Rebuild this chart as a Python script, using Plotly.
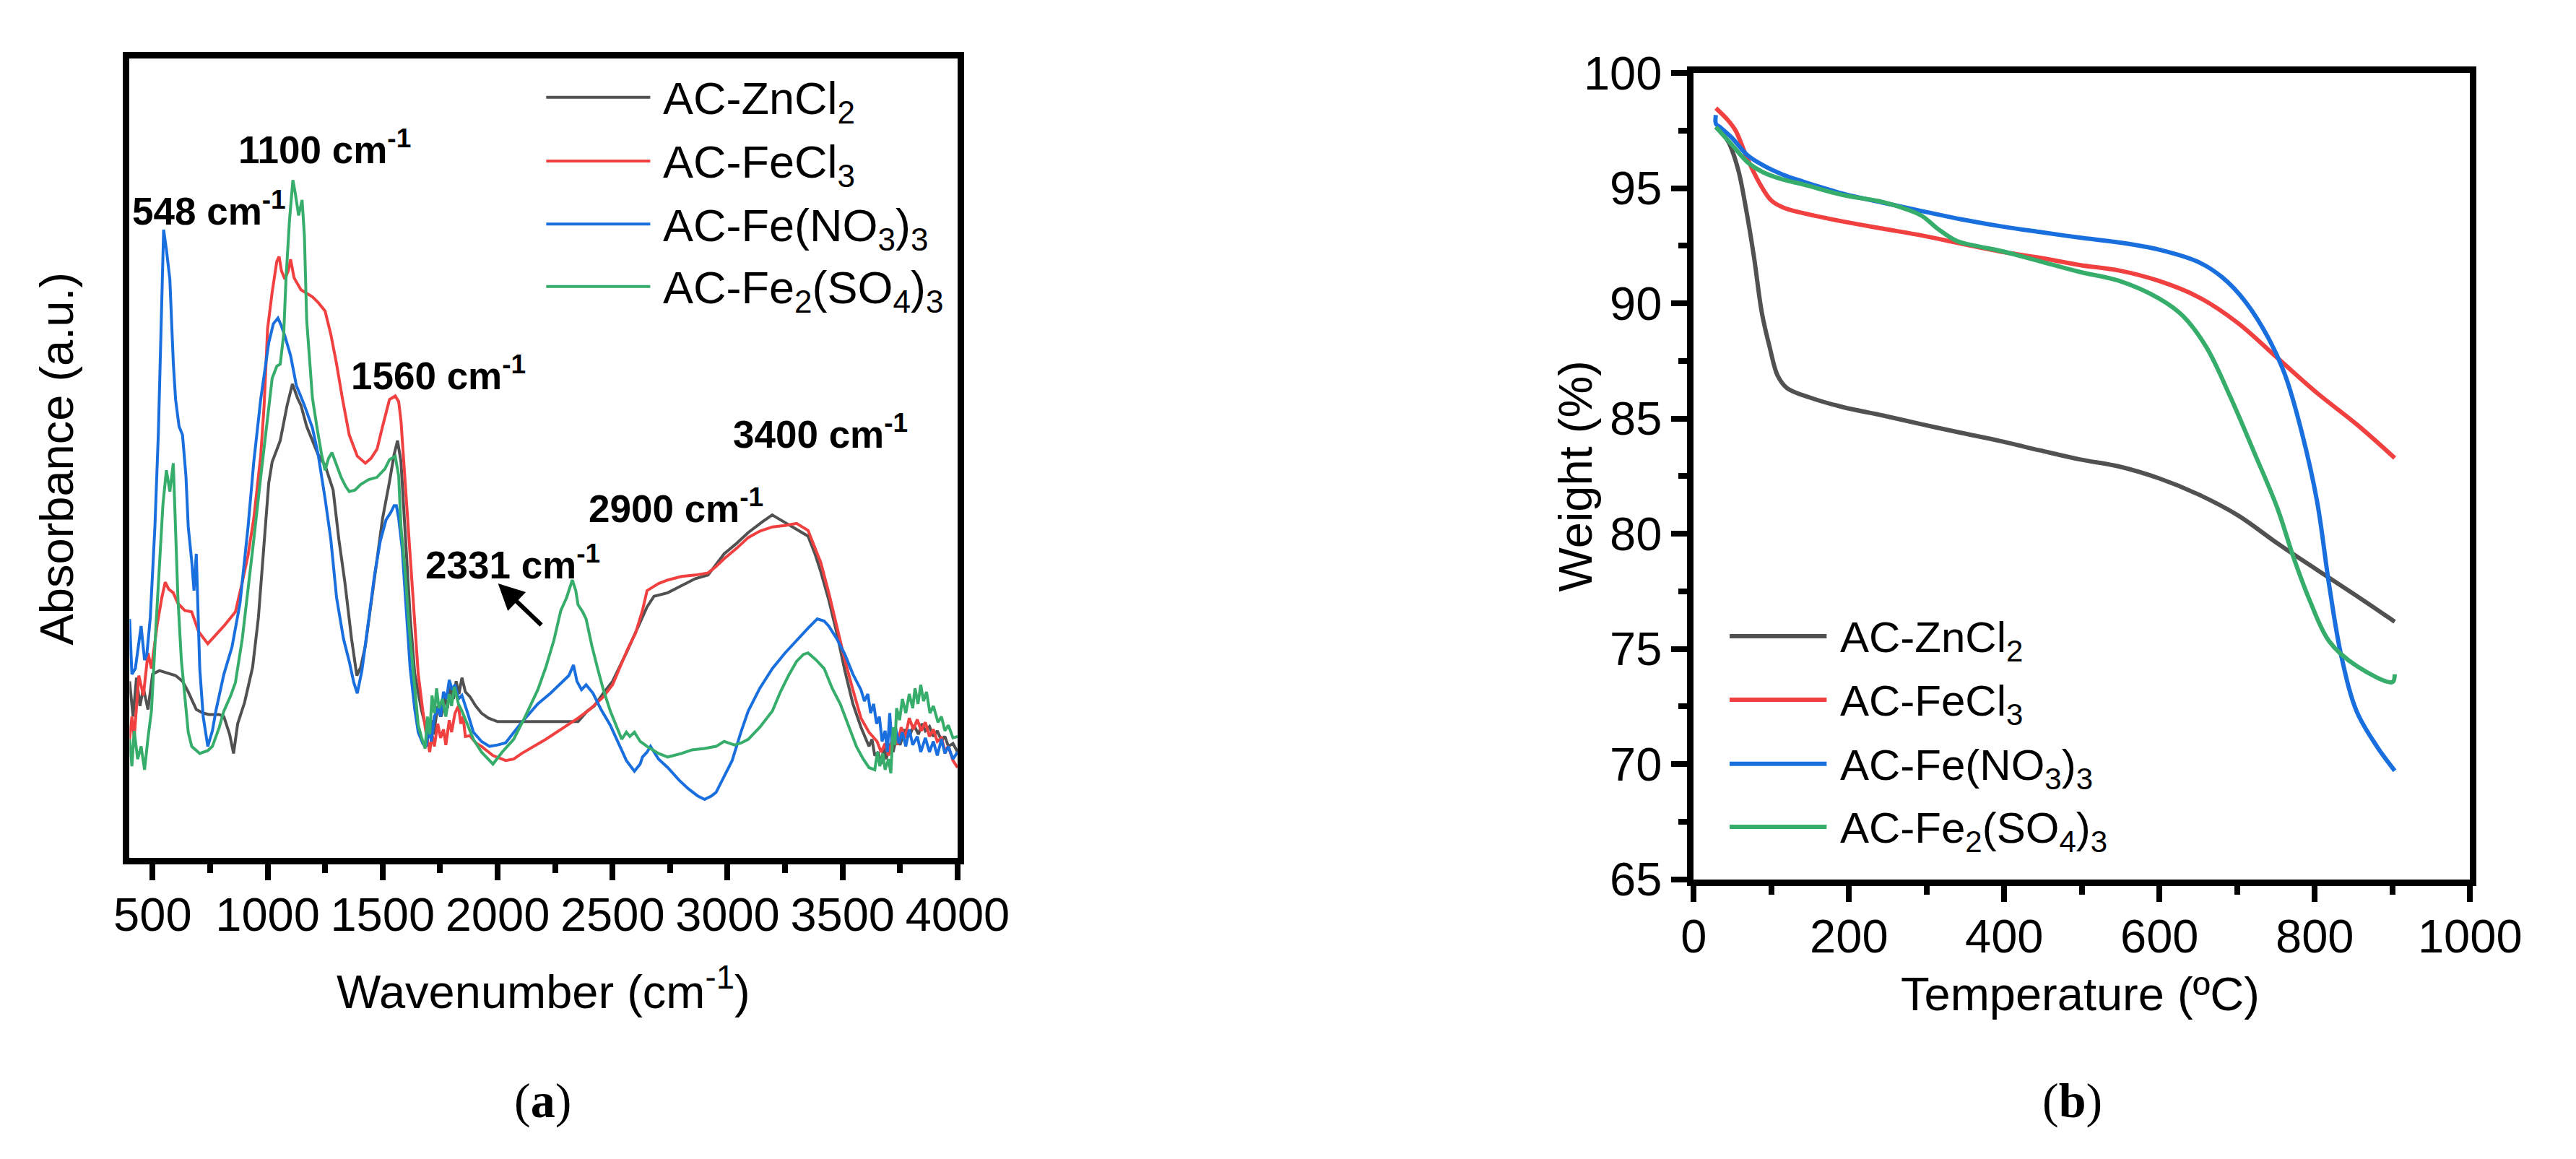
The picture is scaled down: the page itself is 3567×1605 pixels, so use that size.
import plotly.graph_objects as go

# ---------------- FTIR data (a): (wavenumber cm-1, absorbance a.u.) ----------------
series_names = ["AC-ZnCl<sub>2</sub>", "AC-FeCl<sub>3</sub>",
                "AC-Fe(NO<sub>3</sub>)<sub>3</sub>", "AC-Fe<sub>2</sub>(SO<sub>4</sub>)<sub>3</sub>"]
colors = ["#515151", "#F14040", "#1A6FDF", "#37AD6B"]

ftir_zn = [(400,250),(415,200),(430,255),(445,215),(460,240),(480,210),(500,260),(530,265),(560,262),(600,258),
           (630,250),(655,235),(690,210),(720,205),(745,203),(790,203),(810,200),(835,175),(852,148),(870,190),
           (900,220),(935,270),(960,340),(985,450),(1005,530),(1020,560),(1055,590),(1085,640),(1108,670),
           (1130,650),(1145,640),(1170,610),(1195,590),(1220,570),(1250,555),(1285,520),(1310,450),(1336,390),
           (1365,310),(1388,258),(1405,270),(1425,300),(1450,360),(1476,420),(1500,480),(1529,530),(1550,570),
           (1565,590),(1580,560),(1600,450),(1620,340),(1640,260),(1670,208),(1700,170),(1712,195),(1722,175),
           (1740,215),(1755,200),(1770,228),(1782,212),(1795,242),(1808,225),(1820,250),(1832,232),(1845,255),
           (1860,235),(1880,228),(1905,215),(1930,205),(1960,198),(2000,193),(2100,193),(2200,193),(2300,193),
           (2350,193),(2390,208),(2420,215),(2460,233),(2500,250),(2560,290),(2600,320),(2650,355),(2680,370),
           (2740,375),(2800,385),(2860,395),(2915,400),(2950,415),(2985,430),(3040,445),(3090,460),(3150,475),
           (3194,485),(3230,478),(3270,470),(3300,465),(3350,455),(3380,430),(3405,405),(3440,365),(3475,318),
           (3510,265),(3545,218),(3580,185),(3600,170),(3615,158),(3628,168),(3640,145),(3655,150),(3667,133),
           (3680,155),(3690,140),(3705,162),(3720,150),(3735,172),(3750,160),(3770,182),(3790,172),(3810,188),
           (3830,175),(3845,190),(3860,180),(3878,186),(3895,172),(3912,180),(3930,166),(3945,172),(3960,158),
           (3980,162),(4000,150)]

ftir_fe = [(400,168),(410,200),(420,170),(440,258),(460,230),(480,290),(495,268),(520,330),(540,368),(555,390),
           (570,380),(590,375),(610,360),(640,350),(670,348),(700,320),(740,303),(775,315),(810,328),(840,340),
           (860,348),(890,390),(915,428),(940,480),(970,568),(985,640),(1000,748),(1020,800),(1040,843),
           (1050,850),(1060,830),(1075,818),(1090,830),(1100,846),(1115,820),(1145,803),(1170,798),(1195,793),
           (1220,785),(1250,773),(1275,740),(1300,698),(1325,650),(1355,598),(1390,568),(1425,558),(1450,565),
           (1476,578),(1500,610),(1530,648),(1555,653),(1570,645),(1580,618),(1595,545),(1610,468),(1625,400),
           (1640,318),(1655,260),(1675,208),(1690,175),(1705,150),(1715,175),(1725,158),(1740,190),(1752,170),
           (1765,182),(1775,160),(1790,195),(1800,178),(1815,205),(1830,215),(1840,190),(1850,200),(1860,172),
           (1880,173),(1905,163),(1930,158),(1980,145),(2035,138),(2070,140),(2105,148),(2160,158),(2210,168),
           (2280,183),(2350,198),(2400,210),(2460,228),(2500,245),(2530,268),(2565,295),(2600,318),(2630,350),
           (2650,378),(2700,388),(2740,393),(2800,398),(2860,400),(2915,403),(2950,412),(2985,423),(3040,438),
           (3090,453),(3140,462),(3195,468),(3250,470),(3300,473),(3350,463),(3380,438),(3405,418),(3440,375),
           (3475,328),(3510,280),(3545,238),(3580,198),(3615,178),(3650,165),(3668,150),(3685,162),(3700,145),
           (3720,175),(3738,160),(3755,185),(3772,170),(3790,198),(3808,182),(3825,196),(3842,180),(3860,192),
           (3878,172),(3895,182),(3912,165),(3930,170),(3945,152),(3960,158),(3980,138),(4000,128)]

ftir_no3 = [(400,338),(410,260),(425,268),(440,305),(450,328),(465,280),(475,288),(490,340),(510,468),(525,600),
            (535,718),(548,888),(560,860),(575,818),(590,700),(600,648),(615,610),(630,598),(645,540),(655,468),
            (670,420),(680,378),(690,430),(705,268),(720,200),(740,158),(760,180),(775,208),(810,260),(845,298),
            (880,360),(915,468),(940,560),(970,648),(1005,728),(1025,755),(1045,763),(1060,752),(1075,738),
            (1100,710),(1125,668),(1160,640),(1195,608),(1220,570),(1250,508),(1275,450),(1300,368),(1330,310),
            (1355,278),(1375,248),(1390,233),(1410,265),(1440,338),(1465,400),(1490,448),(1515,478),(1535,488),
            (1550,498),(1560,498),(1570,480),(1585,438),(1600,368),(1620,268),(1640,210),(1655,178),(1675,162),
            (1690,158),(1702,185),(1712,165),(1725,200),(1740,212),(1752,200),(1765,235),(1778,225),(1790,252),
            (1802,238),(1815,245),(1830,225),(1845,230),(1870,205),(1895,178),(1930,165),(1965,158),(2000,160),
            (2035,163),(2100,190),(2175,218),(2230,233),(2280,248),(2310,258),(2330,273),(2345,250),(2365,238),
            (2385,245),(2415,233),(2450,210),(2490,188),(2530,160),(2560,138),(2595,123),(2620,133),(2630,143),
            (2650,150),(2665,158),(2700,140),(2740,128),(2790,110),(2830,98),(2870,88),(2900,83),(2930,88),
            (2950,93),(2985,115),(3020,138),(3060,180),(3090,208),(3140,240),(3195,268),(3250,290),(3300,308),
            (3350,325),(3390,338),(3420,335),(3440,328),(3475,310),(3510,288),(3545,260),(3580,238),(3595,222),
            (3610,232),(3622,205),(3635,218),(3648,190),(3660,200),(3672,165),(3685,180),(3695,150),(3705,205),
            (3715,160),(3730,185),(3745,162),(3760,178),(3775,158),(3790,182),(3805,160),(3825,172),(3840,150),
            (3860,170),(3878,150),(3895,165),(3912,145),(3930,168),(3945,148),(3960,158),(3980,140),(4000,150)]

ftir_so4 = [(400,168),(410,130),(420,180),(435,140),(450,158),(465,125),(480,170),(495,208),(515,330),(530,418),
            (545,500),(560,548),(575,518),(590,558),(600,460),(610,368),(625,280),(640,230),(655,178),(670,158),
            (705,148),(740,152),(760,158),(790,185),(810,208),(840,230),(860,248),(890,310),(915,378),(940,450),
            (970,538),(995,610),(1020,678),(1040,695),(1055,698),(1070,740),(1080,818),(1095,900),(1110,958),
            (1120,940),(1135,908),(1150,930),(1160,880),(1170,760),(1180,718),(1195,650),(1215,608),(1235,570),
            (1250,548),(1265,565),(1280,573),(1300,555),(1320,538),(1340,525),(1355,518),(1380,520),(1405,528),
            (1440,535),(1475,538),(1510,550),(1530,563),(1555,568),(1570,540),(1580,468),(1600,398),(1615,328),
            (1635,260),(1655,188),(1670,170),(1685,155),(1695,200),(1705,175),(1715,230),(1725,205),(1735,240),
            (1745,212),(1760,225),(1775,200),(1790,232),(1800,215),(1812,242),(1830,218),(1845,208),(1870,188),
            (1895,168),(1930,150),(1980,133),(2020,150),(2070,168),(2120,200),(2175,238),(2210,270),(2245,308),
            (2275,350),(2300,368),(2325,393),(2340,378),(2350,358),(2370,348),(2385,338),(2410,300),(2435,268),
            (2460,238),(2490,208),(2515,188),(2540,168),(2560,178),(2575,172),(2595,178),(2620,165),(2650,158),
            (2700,148),(2740,143),(2800,148),(2845,153),(2900,155),(2950,158),(2985,165),(3030,160),(3060,163),
            (3090,168),(3140,185),(3195,208),(3230,235),(3265,258),(3300,278),(3330,288),(3350,290),(3385,280),
            (3420,268),(3455,240),(3490,218),(3525,188),(3560,158),(3590,140),(3615,128),(3640,125),(3652,150),
            (3662,130),(3675,148),(3685,125),(3700,140),(3710,120),(3720,185),(3728,160),(3735,212),(3748,195),
            (3760,225),(3775,205),(3790,232),(3805,212),(3815,240),(3828,218),(3840,245),(3852,222),(3865,235),
            (3880,205),(3895,215),(3915,192),(3930,200),(3945,180),(3960,188),(3980,170),(4000,172)]

ftir_series = [ftir_zn, ftir_fe, ftir_no3, ftir_so4]

# peak labels (a)
peak_labels = ["548 cm<sup>-1</sup>", "1100 cm<sup>-1</sup>", "1560 cm<sup>-1</sup>",
               "2331 cm<sup>-1</sup>", "2900 cm<sup>-1</sup>", "3400 cm<sup>-1</sup>"]
peak_label_x = [747, 1248, 1742, 2065, 2776, 3404]
peak_label_y = [918, 1005, 685, 418, 498, 603]

# ---------------- TGA data (b) ----------------
zn_t = [28.5, 44, 57, 67, 77.5, 87.7, 97.9, 108, 120, 151, 192, 243, 294, 345, 395.5, 446, 497, 548, 599, 650,
        701, 752, 803, 854, 903]
zn_w = [97.66, 97.05, 95.84, 94.17, 92.04, 89.6, 88.09, 86.87, 86.33, 85.9, 85.5, 85.14, 84.75, 84.38, 84.02,
        83.62, 83.23, 82.92, 82.41, 81.71, 80.8, 79.58, 78.43, 77.3, 76.18]

fe_t = [28.5, 44, 54, 69, 84.6, 99.9, 115, 141, 192, 243, 294, 345, 395.5, 446, 497, 548, 599, 650, 701, 752,
        803, 854, 903]
fe_w = [98.48, 97.96, 97.5, 96.29, 95.23, 94.47, 94.17, 93.92, 93.56, 93.25, 92.95, 92.59, 92.25, 91.98, 91.67,
        91.43, 90.98, 90.28, 89.15, 87.63, 86.11, 84.75, 83.29]

no3_t = [28.5, 28.6, 33.6, 49, 69, 89.7, 115, 141, 192, 243, 294, 345, 395.5, 446, 497, 548, 599, 650, 681, 711,
         742, 762, 783, 803, 818.6, 834, 854, 880, 903]
no3_w = [98.18, 97.8, 97.66, 97.2, 96.44, 95.99, 95.59, 95.29, 94.77, 94.38, 94.01, 93.65, 93.35, 93.1, 92.86,
         92.65, 92.34, 91.8, 91.13, 90.06, 88.39, 86.87, 84.44, 81.4, 77.76, 74.72, 72.29, 70.77, 69.71]

so4_t = [28.5, 49, 69, 89.7, 115, 141, 192, 243, 273, 294, 314, 339, 365, 395.5, 446, 497, 548, 599, 630, 660.6,
         691, 722, 752, 772.7, 793, 818.6, 854, 900, 903]
so4_w = [97.66, 96.9, 96.14, 95.69, 95.38, 95.17, 94.71, 94.41, 94.1, 93.8, 93.25, 92.71, 92.49, 92.28, 91.83,
         91.37, 90.98, 90.22, 89.46, 88.09, 85.96, 83.53, 81.1, 78.97, 77.15, 75.33, 74.26, 73.56, 73.9]

tga_t = [zn_t, fe_t, no3_t, so4_t]
tga_w = [zn_w, fe_w, no3_w, so4_w]

FONT = "Liberation Sans, Arial, sans-serif"
SERIF = "Liberation Serif, Times New Roman, serif"

fig = go.Figure()
for i in range(4):
    s = ftir_series[i]
    fig.add_trace(go.Scatter(x=[p[0] for p in s], y=[p[1] for p in s], mode="lines", name=series_names[i],
                             line=dict(color=colors[i], width=4), xaxis="x", yaxis="y",
                             showlegend=False))
for i in range(4):
    fig.add_trace(go.Scatter(x=tga_t[i], y=tga_w[i], mode="lines", name=series_names[i],
                             line=dict(color=colors[i], width=6, shape="spline"), xaxis="x2", yaxis="y2",
                             showlegend=False))

W, H = 3567, 1605
def px(x):
    return x / W
def py(y):
    return 1 - y / H

axis_common = dict(showline=True, linecolor="black", linewidth=9, mirror=True, showgrid=False,
                   zeroline=False, ticks="outside", tickcolor="black", tickwidth=8,
                   tickfont=dict(family=FONT, size=65, color="black"))

fig.update_layout(
    width=W, height=H, margin=dict(l=0, r=0, t=0, b=0),
    paper_bgcolor="white", plot_bgcolor="white",
    xaxis=dict(domain=[px(153.5), px(1331)], range=[400, 4000], anchor="y",
               tick0=500, dtick=500, ticklen=22,
               minor=dict(dtick=250, tick0=500, ticks="outside", ticklen=12, tickwidth=8, tickcolor="black"),
               **axis_common),
    yaxis=dict(domain=[py(1199), py(38.5)], range=[0, 1130], anchor="x",
               showline=True, linecolor="black", linewidth=9, mirror=True, showgrid=False,
               zeroline=False, ticks="", showticklabels=False),
    xaxis2=dict(domain=[px(2378), px(3482)], range=[0, 1000], anchor="y2",
                tick0=0, dtick=200, ticklen=22,
                minor=dict(dtick=100, ticks="outside", ticklen=12, tickwidth=8, tickcolor="black"),
                **axis_common),
    yaxis2=dict(domain=[py(1229.5), py(60)], range=[65, 100], anchor="x2",
                tick0=65, dtick=5, ticklen=22,
                minor=dict(dtick=2.5, ticks="outside", ticklen=12, tickwidth=8, tickcolor="black"),
                **axis_common),
    showlegend=False,
)
try:
    fig.update_layout(xaxis_ticklabelstandoff=-8, xaxis2_ticklabelstandoff=-8)
except Exception:
    pass

def centered(text, x, y, size, family=FONT, angle=0):
    return dict(text=text, x=px(x), y=py(y), xref="paper", yref="paper", xanchor="center",
                yanchor="middle", textangle=angle, showarrow=False,
                font=dict(family=family, size=size, color="black"))

ann = []
# axis titles and panel labels
ann.append(centered("Absorbance (a.u.)", 50, 619, 65, angle=-90))
ann.append(centered("Wavenumber (cm<sup>-1</sup>)", 742, 1388, 65))
ann.append(centered("Weight (%)", 2210, 645, 65, angle=-90))
ann.append(centered("Temperature (ºC)", 2928, 1396, 65))
ann.append(centered("(<b>a</b>)", 741, 1550, 68, family=SERIF))
ann.append(centered("(<b>b</b>)", 2916, 1550, 68, family=SERIF))

# peak labels
for t, x, y in zip(peak_labels, peak_label_x, peak_label_y):
    ann.append(dict(text="<b>" + t + "</b>", x=x, y=y, xref="x", yref="y", xanchor="center",
                    yanchor="middle", showarrow=False, font=dict(family=FONT, size=53, color="black")))
# arrow for 2331
ann.append(dict(text="", x=2002, y=388, ax=2195, ay=328, xref="x", yref="y", axref="x", ayref="y",
                showarrow=True, arrowhead=2, arrowsize=1.2, arrowwidth=6, arrowcolor="black"))

# manual legends
shapes = []
leg_a_rows = [95, 187.5, 279, 369.5]
leg_b_rows = [877, 969, 1062, 1153.5]
for i in range(4):
    shapes.append(dict(type="line", xref="paper", yref="paper", x0=px(746), x1=px(894),
                       y0=py(leg_a_rows[i]), y1=py(leg_a_rows[i]), line=dict(color=colors[i], width=4)))
    ann.append(dict(text=series_names[i], x=px(910), y=py(leg_a_rows[i]), xref="paper", yref="paper",
                    xanchor="left", yanchor="middle", showarrow=False, yshift=-6,
                    font=dict(family=FONT, size=63, color="black")))
    shapes.append(dict(type="line", xref="paper", yref="paper", x0=px(2429), x1=px(2567),
                       y0=py(leg_b_rows[i]), y1=py(leg_b_rows[i]), line=dict(color=colors[i], width=6)))
    ann.append(dict(text=series_names[i], x=px(2584), y=py(leg_b_rows[i]), xref="paper", yref="paper",
                    xanchor="left", yanchor="middle", showarrow=False, yshift=-6,
                    font=dict(family=FONT, size=60, color="black")))

fig.update_layout(annotations=ann, shapes=shapes)
fig.write_html("out.html")
